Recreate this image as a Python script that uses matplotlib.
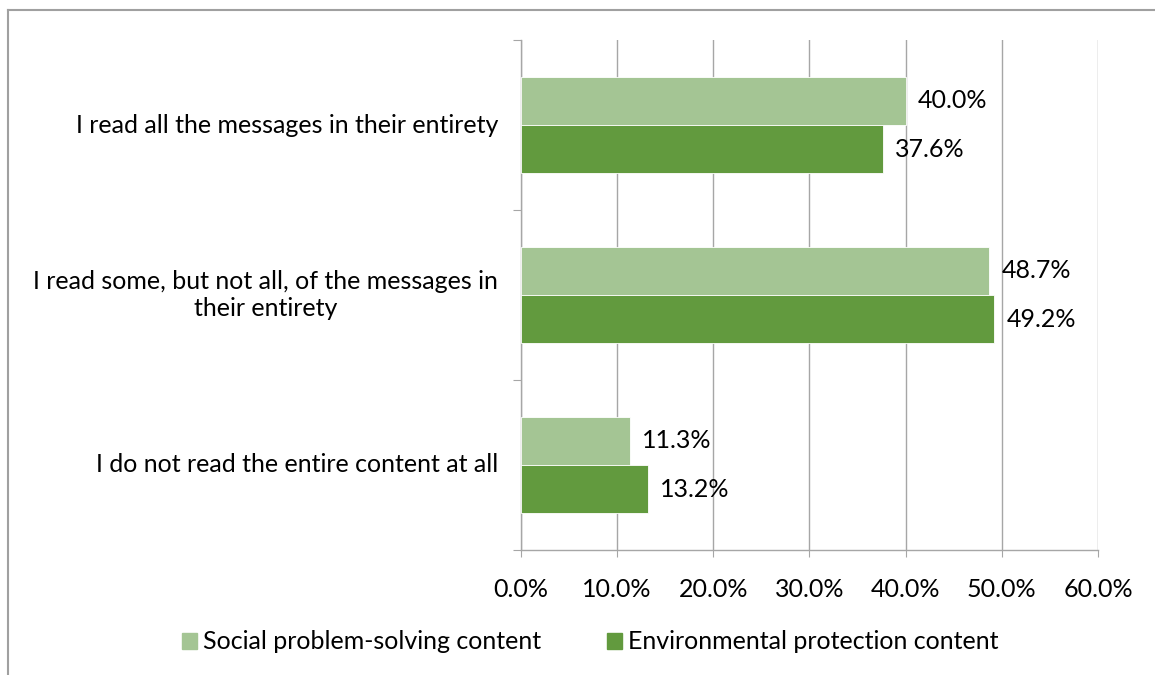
import matplotlib.pyplot as plt
from matplotlib.lines import Line2D
from matplotlib.patches import Patch
from matplotlib.ticker import FuncFormatter, MultipleLocator

plt.rcParams['font.family'] = ['Lato', 'DejaVu Sans']

categories = [
    'I read all the messages in their entirety',
    'I read some, but not all, of the messages in\ntheir entirety',
    'I do not read the entire content at all',
]
series_names = ['Social problem-solving content', 'Environmental protection content']
social = [40.0, 48.7, 11.3]
environment = [37.6, 49.2, 13.2]

light_green = '#a4c594'
dark_green = '#629a3e'
grid_grey = '#a6a6a6'
fs = 18

fig = plt.figure(figsize=(11.55, 6.75), dpi=100)
ax = fig.add_axes([0.4511, 0.1852, 0.4995, 0.7555])

n = len(categories)
ypos = [n - 1 - i for i in range(n)]
bar_h = 0.285

ax.barh([y + bar_h / 2 for y in ypos], social, height=bar_h,
        color=light_green, edgecolor='white', linewidth=0.6, zorder=3)
ax.barh([y - bar_h / 2 for y in ypos], environment, height=bar_h,
        color=dark_green, edgecolor='white', linewidth=0.6, zorder=3)

# value labels just past the end of each bar
for y, s, e in zip(ypos, social, environment):
    ax.annotate(f'{s:.1f}%', (s, y + bar_h / 2), xytext=(9, 0),
                textcoords='offset points', va='center', ha='left', fontsize=fs)
    ax.annotate(f'{e:.1f}%', (e, y - bar_h / 2), xytext=(9, 0),
                textcoords='offset points', va='center', ha='left', fontsize=fs)

ax.set_xlim(0, 60)
ax.set_ylim(-0.5, n - 0.5)
ax.xaxis.set_major_locator(MultipleLocator(10))
ax.xaxis.set_major_formatter(FuncFormatter(lambda v, p: f'{v:.1f}%'))
ax.grid(axis='x', color=grid_grey, linewidth=1.0, zorder=0)

# category labels placed as text, tick marks sit between categories
ax.set_yticks([y - 0.5 for y in range(n + 1)])
ax.set_yticklabels([])
for y, label in zip(ypos, categories):
    ax.text(-0.04, y, label, transform=ax.get_yaxis_transform(),
            ha='right', va='center', multialignment='center', fontsize=fs,
            linespacing=1.25)

for side in ['top', 'right']:
    ax.spines[side].set_visible(False)
for side in ['left', 'bottom']:
    ax.spines[side].set_color(grid_grey)
    ax.spines[side].set_linewidth(1.0)
ax.tick_params(axis='x', length=5, color=grid_grey, labelsize=fs, pad=15)
ax.tick_params(axis='y', length=6, color=grid_grey)

handles = [Patch(color=light_green), Patch(color=dark_green)]
fig.legend(handles, series_names, loc='center', bbox_to_anchor=(0.511, 0.049),
           ncol=2, frameon=False, fontsize=fs, handlelength=0.6, handleheight=0.6,
           handletextpad=0.25, columnspacing=2.6)

# outer chart frame
fig.add_artist(Line2D([8 / 1155, 8 / 1155], [0, 1 - 10 / 675], transform=fig.transFigure,
                      color='#a0a0a0', linewidth=1.5))
fig.add_artist(Line2D([8 / 1155, 1], [1 - 10 / 675, 1 - 10 / 675], transform=fig.transFigure,
                      color='#a0a0a0', linewidth=1.5))

fig.savefig('out.png', dpi=100)
